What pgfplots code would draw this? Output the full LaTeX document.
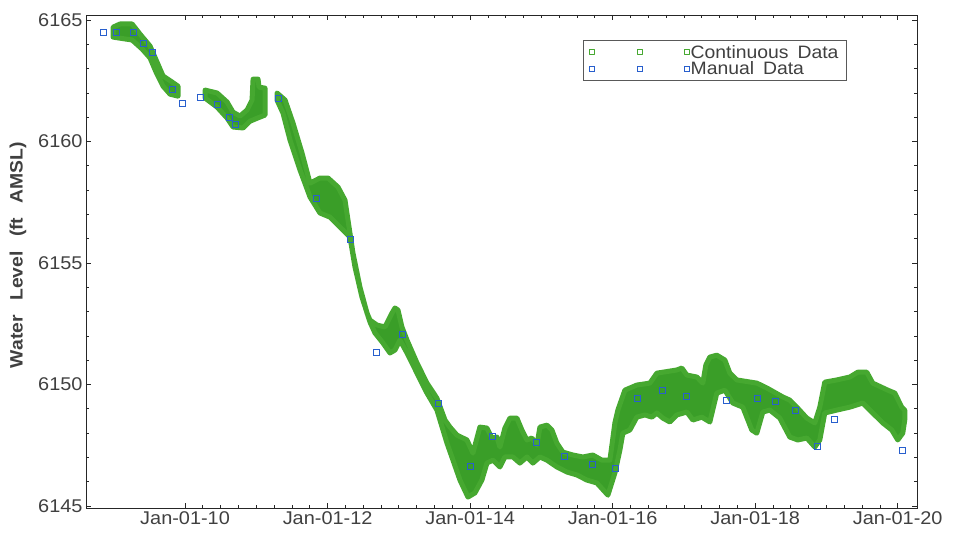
\documentclass[border=0pt]{standalone}
\usepackage{fontspec}
\setmainfont{Liberation Sans}[FakeStretch=1.08]
\usepackage{pgfplots}
\pgfplotsset{compat=1.18}
\definecolor{contgreen}{RGB}{58,158,40}
\definecolor{contedge}{RGB}{70,168,48}
\definecolor{manblue}{RGB}{40,95,205}
\definecolor{txtgray}{RGB}{64,64,64}
\begin{document}
\begin{tikzpicture}
\path[use as bounding box] (-86bp,-28bp) rectangle (867bp,508bp);
\begin{axis}[
  scale only axis, width=831bp, height=493bp,
  xmin=2008.61, xmax=2020.27, ymin=6144.92, ymax=6165.21,
  xtick={2010,2012,2014,2016,2018,2020},
  xticklabels={Jan-01-10,Jan-01-12,Jan-01-14,Jan-01-16,Jan-01-18,Jan-01-20},
  minor x tick num=7,
  ytick={6145,6150,6155,6160,6165},
  minor y tick num=4,
  tick align=inside, major tick length=5bp, minor tick length=3bp,
  axis line style={draw=black!85, line width=0.9bp},
  tick style={draw=black!85, line width=0.8bp},
  ticklabel style={font=\fontsize{18.5}{20}\selectfont, text=txtgray},
  /pgf/number format/assume math mode=true,
  /pgf/number format/1000 sep={},
  every axis y label/.style={at={(rel axis cs:-0.0818,0.513)}, anchor=center, rotate=90},
  ylabel={\bfseries\fontsize{18}{20}\selectfont Water\hspace{0.8em}Level\hspace{0.8em}(ft\hspace{0.8em}AMSL)},
  ylabel style={text=txtgray},
  legend style={at={(0.598,0.949)}, anchor=north west, draw=black!65, line width=0.8bp,
    fill=white, font=\fontsize{18}{19}\selectfont, text=txtgray,
    inner xsep=6bp, inner ysep=3bp, row sep=-1bp,
    nodes={inner sep=1.5bp}},
  legend cell align=left,
]
% Continuous data: envelope of the dense record (upper edge forward, lower edge back)
\addplot[fill=contgreen, draw=contedge, line width=5bp, line join=round,
  legend image code/.code={\draw[only marks, mark=square, mark size=2.4bp, draw=contedge, line width=0.9bp] plot coordinates {(0bp,0bp) (48bp,0bp) (95bp,0bp)};}]
coordinates {
(2008.990,6164.71) (2009.088,6164.84) (2009.257,6164.84) (2009.369,6164.42) (2009.509,6163.93)
(2009.607,6163.27) (2009.691,6162.70) (2009.818,6162.45) (2009.902,6162.28)
(2009.902,6161.87) (2009.790,6161.95) (2009.691,6162.28) (2009.593,6162.86) (2009.509,6163.44)
(2009.397,6163.81) (2009.257,6164.18) (2008.990,6164.30)
} -- cycle;
\addlegendentry{Continuous\hspace{0.5em}Data}
\addplot[fill=contgreen, draw=contedge, line width=5bp, line join=round, forget plot]
coordinates {
(2010.281,6162.12) (2010.449,6162.00) (2010.589,6161.63) (2010.673,6161.21) (2010.771,6161.05)
(2010.870,6161.30) (2010.940,6161.71) (2010.954,6162.57) (2011.024,6162.57) (2011.038,6162.24)
(2011.122,6162.20)
(2011.122,6161.09) (2011.052,6161.01) (2010.912,6160.84) (2010.813,6160.56) (2010.673,6160.60)
(2010.589,6160.97) (2010.449,6161.42) (2010.281,6161.79)
} -- cycle;
\addplot[fill=contgreen, draw=contedge, line width=5bp, line join=round, forget plot]
coordinates {
(2011.290,6162.00) (2011.403,6161.71) (2011.515,6160.76) (2011.641,6159.53) (2011.753,6158.29)
(2011.893,6158.50) (2012.006,6158.50) (2012.146,6158.13) (2012.244,6157.59) (2012.286,6156.77)
(2012.356,6155.41) (2012.454,6154.01) (2012.553,6152.94) (2012.595,6152.65) (2012.693,6152.45)
(2012.805,6152.37) (2012.903,6152.94) (2012.945,6153.15) (2012.987,6153.07) (2013.043,6152.37)
(2013.114,6151.83) (2013.254,6150.89) (2013.394,6150.06) (2013.534,6149.44) (2013.647,6148.54)
(2013.717,6148.25) (2013.815,6147.92) (2013.955,6147.72) (2014.039,6147.18) (2014.137,6148.25)
(2014.236,6148.21) (2014.306,6147.80) (2014.376,6147.84) (2014.418,6147.43) (2014.488,6148.21)
(2014.558,6148.62) (2014.656,6148.62) (2014.726,6148.13) (2014.797,6147.72) (2014.867,6147.80)
(2014.937,6147.51) (2014.979,6148.25) (2015.077,6148.33) (2015.147,6148.13) (2015.217,6147.59)
(2015.301,6147.22) (2015.442,6147.10) (2015.582,6147.02) (2015.722,6147.10) (2015.848,6146.89)
(2015.961,6146.89) (2016.031,6148.42) (2016.073,6148.95) (2016.171,6149.77) (2016.339,6149.98)
(2016.522,6150.06) (2016.620,6150.47) (2016.900,6150.60) (2016.970,6150.68) (2017.041,6150.39)
(2017.181,6150.31) (2017.265,6150.06) (2017.307,6150.80) (2017.363,6151.13) (2017.461,6151.21)
(2017.574,6151.01) (2017.644,6150.47) (2017.742,6150.19) (2018.022,6150.06) (2018.163,6149.86)
(2018.387,6149.49) (2018.485,6149.36) (2018.583,6149.07) (2018.724,6148.62) (2018.836,6148.42)
(2018.906,6149.07) (2018.976,6150.10) (2019.144,6150.19) (2019.327,6150.31) (2019.439,6150.51)
(2019.565,6150.51) (2019.649,6150.06) (2019.860,6149.77) (2019.958,6149.65) (2020.056,6149.07)
(2020.098,6148.95)
(2020.098,6148.54) (2020.070,6148.00) (2020.000,6147.72) (2019.916,6148.13) (2019.790,6148.42)
(2019.649,6148.83) (2019.509,6149.24) (2019.327,6149.07) (2019.144,6148.95) (2018.976,6148.83)
(2018.906,6147.72) (2018.836,6147.43) (2018.724,6147.80) (2018.597,6147.72) (2018.485,6147.84)
(2018.345,6148.62) (2018.205,6148.95) (2018.107,6148.87) (2018.022,6148.00) (2017.952,6148.13)
(2017.826,6149.07) (2017.686,6149.24) (2017.574,6149.77) (2017.461,6149.65) (2017.363,6148.46)
(2017.251,6148.66) (2017.125,6148.54) (2017.041,6148.87) (2016.900,6148.75) (2016.802,6148.46)
(2016.704,6148.62) (2016.620,6148.83) (2016.550,6148.66) (2016.452,6148.75) (2016.339,6148.66)
(2016.241,6148.13) (2016.143,6148.00) (2016.101,6147.30) (2016.031,6146.36) (2015.933,6145.45)
(2015.778,6145.95) (2015.638,6146.07) (2015.498,6146.28) (2015.358,6146.40) (2015.217,6146.61)
(2015.077,6146.89) (2014.979,6147.02) (2014.881,6146.77) (2014.797,6147.02) (2014.698,6146.77)
(2014.600,6147.02) (2014.488,6147.02) (2014.418,6146.61) (2014.320,6146.89) (2014.236,6146.77)
(2014.165,6146.07) (2014.067,6145.54) (2013.969,6145.37) (2013.857,6146.07) (2013.759,6146.89)
(2013.675,6147.59) (2013.534,6148.95) (2013.394,6149.65) (2013.254,6150.47) (2013.114,6151.30)
(2013.015,6151.83) (2012.945,6151.42) (2012.875,6151.30) (2012.777,6151.71) (2012.665,6152.12)
(2012.595,6152.57) (2012.482,6153.60) (2012.384,6154.84) (2012.314,6156.07) (2012.216,6156.36)
(2012.034,6156.89) (2011.893,6157.06) (2011.753,6157.72) (2011.613,6158.83) (2011.473,6160.06)
(2011.374,6161.17) (2011.290,6161.71)
} -- cycle;
% Manual data
\addplot[scatter, only marks, mark=square, mark size=3bp, line width=1bp,
  scatter/use mapped color={draw=manblue, fill=none},
  legend image code/.code={\draw[only marks, mark=square, mark size=2.4bp, draw=manblue, line width=0.9bp] plot coordinates {(0bp,0bp) (48bp,0bp) (95bp,0bp)};}]
coordinates {
(2008.850,6164.47) (2009.032,6164.47) (2009.271,6164.51) (2009.411,6164.05) (2009.537,6163.68)
(2009.818,6162.16) (2009.958,6161.58) (2010.210,6161.83) (2010.449,6161.54) (2010.617,6161.01)
(2010.701,6160.72) (2011.318,6161.79) (2011.851,6157.67) (2012.328,6155.95) (2012.693,6151.34)
(2013.057,6152.08) (2013.562,6149.24) (2014.011,6146.61) (2014.320,6147.88) (2014.937,6147.63)
(2015.330,6147.06) (2015.722,6146.73) (2016.045,6146.56) (2016.353,6149.44) (2016.704,6149.77)
(2017.041,6149.49) (2017.602,6149.36) (2018.036,6149.44) (2018.289,6149.32) (2018.569,6148.95)
(2018.878,6147.47) (2019.116,6148.58) (2020.070,6147.30)
};
\addlegendentry{Manual\hspace{0.5em}Data}
\end{axis}
\end{tikzpicture}
\end{document}
